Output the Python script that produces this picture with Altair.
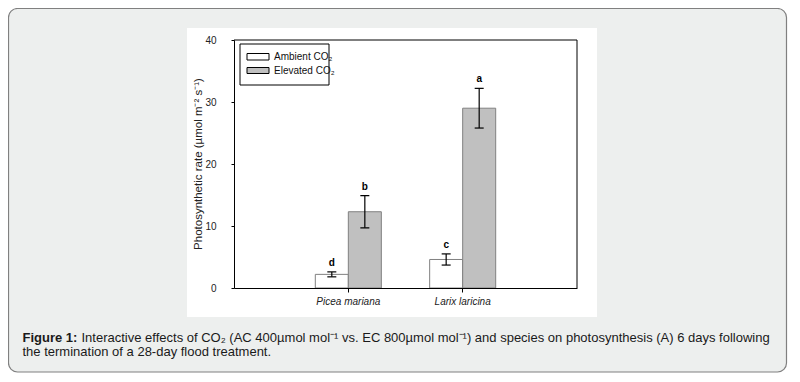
import altair as alt
import pandas as pd

# ---- data ----
species = ["Picea mariana", "Picea mariana", "Larix laricina", "Larix laricina"]
treatment = ["Ambient CO₂", "Elevated CO₂", "Ambient CO₂", "Elevated CO₂"]
mean = [2.2, 12.3, 4.6, 29.0]
err = [0.4, 2.6, 0.9, 3.2]
letters = ["d", "b", "c", "a"]
species_order = ["Picea mariana", "Larix laricina"]
treat_order = ["Ambient CO₂", "Elevated CO₂"]
y_ticks = [0, 10, 20, 30, 40]
y_title = "Photosynthetic rate (µmol m⁻² s⁻¹)"
caption_bold = "Figure 1:"
caption_line1 = "Interactive effects of CO₂ (AC 400µmol mol⁻¹ vs. EC 800µmol mol⁻¹) and species on photosynthesis (A) 6 days following"
caption_line2 = "the termination of a 28-day flood treatment."

df = pd.DataFrame({"species": species, "treatment": treatment, "mean": mean, "err": err, "letter": letters})
df["lo"] = df["mean"] - df["err"]
df["hi"] = df["mean"] + df["err"]

W, H = 343, 248
one = pd.DataFrame({"a": [0]})
FONT = "Liberation Sans"

xenc = alt.X("species:N", sort=species_order, title=None,
             scale=alt.Scale(paddingInner=0.4225, paddingOuter=0.711),
             axis=alt.Axis(labelFontStyle="italic", labelFontSize=10, labelColor="#222",
                           tickSize=4, labelPadding=4, domainColor="#000", tickColor="#000",
                           labelAngle=0, zindex=2, labelFont=FONT))
xoff = alt.XOffset("treatment:N", sort=treat_order, scale=alt.Scale(paddingInner=0, paddingOuter=0))
yenc = alt.Y("mean:Q", scale=alt.Scale(domain=[0, 40], nice=False),
             axis=alt.Axis(values=y_ticks, title=None, labelFontSize=10, labelColor="#222", tickSize=3,
                           labelPadding=15, domainColor="#000", tickColor="#000",
                           grid=False, zindex=2, labelFont=FONT))

# background decorations
outer = alt.Chart(one).mark_rect(fill="#edefee", stroke="#808080", strokeWidth=1.2, cornerRadius=9).encode(
    x=alt.value(-225.5), x2=alt.value(552.5), y=alt.value(-31.5), y2=alt.value(332))
panel = alt.Chart(one).mark_rect(fill="#ffffff").encode(
    x=alt.value(-47), x2=alt.value(363), y=alt.value(-12), y2=alt.value(277))
frame_top = alt.Chart(one).mark_rule(color="#000", strokeWidth=1).encode(
    x=alt.value(0), x2=alt.value(W), y=alt.value(0))
frame_right = alt.Chart(one).mark_rule(color="#000", strokeWidth=1).encode(
    x=alt.value(W), y=alt.value(0), y2=alt.value(H))

bars = alt.Chart(df).mark_bar(stroke="#808080", strokeWidth=1).encode(
    x=xenc, xOffset=xoff, y=yenc,
    fill=alt.Fill("treatment:N", scale=alt.Scale(domain=treat_order, range=["#ffffff", "#c0c0c0"]), legend=None))

ebar = alt.Chart(df).mark_rule(color="#000", strokeWidth=1.2).encode(
    x=alt.X("species:N", sort=species_order), xOffset=xoff, y="lo:Q", y2="hi:Q")
cap_lo = alt.Chart(df).mark_tick(color="#000", thickness=1.2, size=9, opacity=1).encode(
    x=alt.X("species:N", sort=species_order), xOffset=xoff, y="lo:Q")
cap_hi = alt.Chart(df).mark_tick(color="#000", thickness=1.2, size=9, opacity=1).encode(
    x=alt.X("species:N", sort=species_order), xOffset=xoff, y="hi:Q")
lett = alt.Chart(df).mark_text(fontWeight="bold", fontSize=10, color="#000", dy=-9, baseline="middle", font=FONT).encode(
    x=alt.X("species:N", sort=species_order), xOffset=xoff, y="hi:Q", text="letter:N")

# y axis title (rotated)
ytitle = alt.Chart(one).mark_text(angle=270, align="center", baseline="middle", fontSize=11.5, color="#222", font=FONT).encode(
    x=alt.value(-35), y=alt.value(124), text=alt.value(y_title))

# legend
leg_box = alt.Chart(one).mark_rect(fill="#ffffff", stroke="#000", strokeWidth=1).encode(
    x=alt.value(6), x2=alt.value(95), y=alt.value(4), y2=alt.value(45))
sw1 = alt.Chart(one).mark_rect(fill="#ffffff", stroke="#000", strokeWidth=1).encode(
    x=alt.value(13), x2=alt.value(35), y=alt.value(13.5), y2=alt.value(20))
sw2 = alt.Chart(one).mark_rect(fill="#c0c0c0", stroke="#000", strokeWidth=1).encode(
    x=alt.value(13), x2=alt.value(35), y=alt.value(27.5), y2=alt.value(33.5))
lt1 = alt.Chart(one).mark_text(align="left", baseline="middle", fontSize=10, color="#111", font=FONT).encode(
    x=alt.value(40), y=alt.value(16.5), text=alt.value(treat_order[0]))
lt2 = alt.Chart(one).mark_text(align="left", baseline="middle", fontSize=10, color="#111", font=FONT).encode(
    x=alt.value(40), y=alt.value(31), text=alt.value(treat_order[1]))

# caption
cap_b = alt.Chart(one).mark_text(align="left", baseline="alphabetic", fontSize=13, fontWeight="bold", color="#1a1a1a", font=FONT).encode(
    x=alt.value(-211.5), y=alt.value(301.5), text=alt.value(caption_bold))
cap_1 = alt.Chart(one).mark_text(align="left", baseline="alphabetic", fontSize=13, color="#1a1a1a", font=FONT).encode(
    x=alt.value(-152.5), y=alt.value(301.5), text=alt.value(caption_line1))
cap_2 = alt.Chart(one).mark_text(align="left", baseline="alphabetic", fontSize=13, color="#1a1a1a", font=FONT).encode(
    x=alt.value(-211.5), y=alt.value(315.5), text=alt.value(caption_line2))

chart = alt.layer(
    outer, panel, bars, ebar, cap_lo, cap_hi, lett, frame_top, frame_right, ytitle,
    leg_box, sw1, sw2, lt1, lt2, cap_b, cap_1, cap_2
).properties(
    width=W, height=H,
    autosize=alt.AutoSizeParams(type="none"),
    padding={"left": 226, "top": 32, "right": 215, "bottom": 86},
    background="#ffffff",
).configure_view(stroke="transparent")

chart.save("out.html", embed_options={"renderer": "svg", "actions": False})
